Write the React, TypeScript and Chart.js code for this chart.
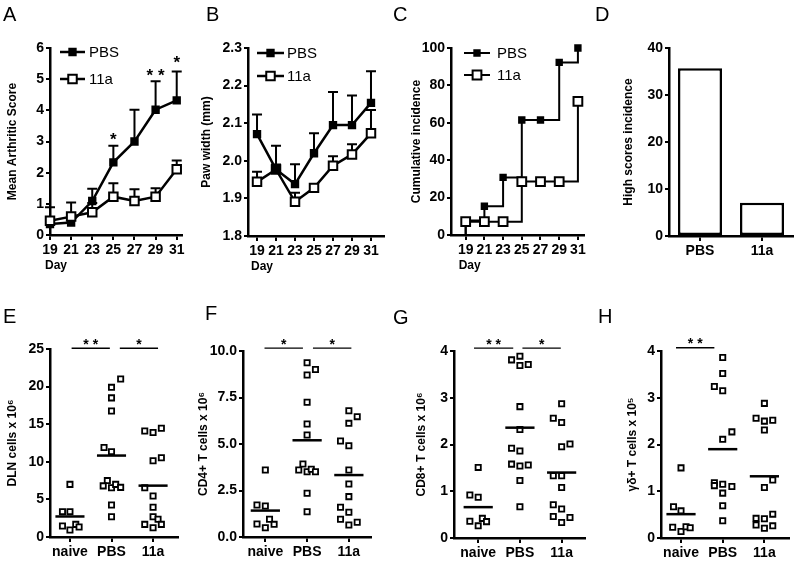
import React, { useEffect, useRef } from 'react';
import { Chart, registerables } from 'chart.js';

Chart.register(...registerables);

const FAMILY = '"Liberation Sans", Arial, Helvetica, sans-serif';
const INK = '#000000';

// ---------------- shared categories / ticks ----------------
const days = [19, 21, 23, 25, 27, 29, 31];
const dayTicks = [19, 21, 23, 25, 27, 29, 31];
const dayTickLabels = ['19', '21', '23', '25', '27', '29', '31'];
const treatmentNames = ['PBS', '11a'];
const cellGroups = ['naive', 'PBS', '11a'];
const cellGroupPos = [1, 2, 3];

// ---------------- A: mean arthritic score ----------------
const scorePBS = [0.35, 0.4, 1.09, 2.33, 3.0, 4.02, 4.32];
const scorePBSsem = [0.54, 0, 0.39, 0.53, 1.02, 0.91, 0.93];
const score11a = [0.46, 0.59, 0.73, 1.23, 1.09, 1.23, 2.11];
const score11aSem = [0, 0.45, 0.3, 0.43, 0.38, 0.27, 0.28];
const scoreStars = [
  { day: 25, y: 3.2, text: '*' },
  { day: 29, y: 5.25, text: '* *' },
  { day: 31, y: 5.67, text: '*' },
];
const scoreYTicks = [0, 1, 2, 3, 4, 5, 6];
const scoreYLabels = ['0', '1', '2', '3', '4', '5', '6'];

// ---------------- B: paw width ----------------
const pawPBS = [2.071, 1.977, 1.938, 2.02, 2.095, 2.095, 2.154];
const pawPBSsem = [0.052, 0.063, 0.053, 0.053, 0.088, 0.079, 0.084];
const paw11a = [1.944, 1.977, 1.891, 1.928, 1.987, 2.017, 2.073];
const paw11aSem = [0.027, 0.013, 0.024, 0, 0.025, 0.027, 0.062];
const pawYTicks = [1.8, 1.9, 2.0, 2.1, 2.2, 2.3];
const pawYLabels = ['1.8', '1.9', '2.0', '2.1', '2.2', '2.3'];

// ---------------- C: cumulative incidence ----------------
const incidenceStart = 0;
const incPBS = [7.7, 15.4, 30.8, 61.5, 61.5, 92.3, 100];
const inc11a = [7.1, 7.1, 7.1, 28.6, 28.6, 28.6, 71.4];
const incYTicks = [0, 20, 40, 60, 80, 100];
const incYLabels = ['0', '20', '40', '60', '80', '100'];

// ---------------- D: high scores incidence ----------------
const highScores = [35.7, 7.1];
const highYTicks = [0, 10, 20, 30, 40];
const highYLabels = ['0', '10', '20', '30', '40'];

// ---------------- E: DLN cells ----------------
const dlnNaive = [7.0, 3.37, 3.37, 1.46, 0.93, 1.68, 1.33];
const dlnNaiveJit = [0, -0.18, 0, -0.18, 0, 0.14, 0.22];
const dlnPBS = [21.0, 19.9, 18.5, 16.75, 11.9, 11.35, 7.5, 6.8, 6.55, 7.0, 6.6, 4.26, 2.7];
const dlnPBSJit = [0.22, 0, 0, 0, -0.18, 0, -0.1, -0.2, 0, 0.1, 0.22, 0, 0];
const dln11a = [14.1, 13.9, 14.45, 10.15, 10.55, 6.55, 5.45, 3.95, 2.7, 2.35, 1.68, 1.24, 1.68];
const dln11aJit = [-0.2, 0, 0.2, 0, 0.2, -0.2, 0, 0, 0, 0.12, -0.2, 0, 0.2];
const dlnMeans = [2.73, 10.83, 6.83];
const dlnSig = [
  { from: 1.04, to: 1.96, y: 25.1, text: '* *' },
  { from: 2.2, to: 3.12, y: 25.1, text: '*' },
];
const dlnYTicks = [0, 5, 10, 15, 20, 25];
const dlnYLabels = ['0', '5', '10', '15', '20', '25'];

// ---------------- F: CD4+ T cells ----------------
const cd4Naive = [3.6, 1.72, 1.67, 0.95, 0.7, 0.5, 0.68];
const cd4NaiveJit = [0, -0.2, 0, 0.1, -0.2, 0, 0.21];
const cd4PBS = [9.37, 9.01, 8.71, 7.24, 6.08, 5.48, 3.92, 3.6, 3.51, 3.64, 3.51, 2.35, 1.36];
const cd4PBSJit = [0, 0.2, 0, 0, 0, 0, -0.1, -0.2, 0, 0.1, 0.2, 0, 0];
const cd411a = [6.79, 6.47, 6.11, 5.16, 4.91, 3.6, 2.85, 2.17, 1.6, 1.33, 0.95, 0.65, 0.79];
const cd411aJit = [0, 0.2, 0, -0.2, 0, 0, 0, 0, -0.2, 0, -0.2, 0, 0.2];
const cd4Means = [1.42, 5.2, 3.33];
const cd4Sig = [
  { from: 0.98, to: 1.9, y: 10.15, text: '*' },
  { from: 2.14, to: 3.06, y: 10.15, text: '*' },
];
const cd4YTicks = [0, 2.5, 5, 7.5, 10];
const cd4YLabels = ['0.0', '2.5', '5.0', '7.5', '10.0'];

// ---------------- G: CD8+ T cells ----------------
const cd8Naive = [1.51, 0.92, 0.87, 0.36, 0.42, 0.26, 0.35];
const cd8NaiveJit = [0, -0.2, 0, -0.2, 0.1, 0, 0.2];
const cd8PBS = [3.89, 3.81, 3.69, 3.71, 2.81, 2.32, 1.92, 1.86, 1.58, 1.54, 1.56, 1.23, 0.67];
const cd8PBSJit = [0, -0.2, 0, 0.2, 0, 0, -0.2, 0, -0.2, 0, 0.2, 0, 0];
const cd811a = [2.87, 2.56, 2.47, 1.95, 2.01, 1.33, 1.33, 1.08, 0.71, 0.62, 0.46, 0.33, 0.44];
const cd811aJit = [0, -0.2, 0, 0, 0.2, -0.2, 0, 0, -0.2, 0, -0.2, 0, 0.2];
const cd8Means = [0.66, 2.36, 1.4];
const cd8Sig = [
  { from: 0.9, to: 1.84, y: 4.06, text: '* *' },
  { from: 2.06, to: 2.98, y: 4.06, text: '*' },
];
const fourTicks = [0, 1, 2, 3, 4];
const fourLabels = ['0', '1', '2', '3', '4'];

// ---------------- H: gamma-delta T cells ----------------
const gdNaive = [1.5, 0.67, 0.58, 0.23, 0.14, 0.24, 0.22];
const gdNaiveJit = [0, -0.18, 0, -0.2, 0, 0.12, 0.22];
const gdPBS = [3.86, 3.52, 3.24, 3.15, 2.27, 2.11, 1.18, 1.12, 1.15, 1.1, 0.96, 0.69, 0.37];
const gdPBSJit = [0, 0, -0.2, 0, 0.22, 0, -0.2, -0.2, 0, 0.22, 0, 0, 0];
const gd11a = [2.88, 2.56, 2.5, 2.52, 2.31, 1.24, 1.08, 0.42, 0.41, 0.51, 0.28, 0.21, 0.26];
const gd11aJit = [0, -0.2, 0, 0.2, 0, 0.2, 0, -0.2, 0, 0.2, -0.2, 0, 0.2];
const gdMeans = [0.51, 1.9, 1.32];
const gdSig = [{ from: 0.88, to: 1.8, y: 4.07, text: '* *' }];

// ---------------- plugins ----------------
const semPlugin = {
  id: 'semBars',
  beforeDatasetsDraw(chart: any, _a: any, opts: any) {
    if (!opts || !opts.sets) return;
    const { ctx } = chart;
    const ys = chart.scales.y;
    ctx.save();
    ctx.strokeStyle = INK;
    ctx.lineWidth = opts.lineWidth;
    opts.sets.forEach((set: any) => {
      const idx = chart.data.datasets.findIndex((d: any) => d.label === set.label);
      if (idx < 0) return;
      const meta = chart.getDatasetMeta(idx);
      const ds = chart.data.datasets[idx];
      set.err.forEach((e: number, i: number) => {
        if (!e) return;
        const el = meta.data[i];
        const top = ys.getPixelForValue(ds.data[i].y + e);
        ctx.beginPath();
        ctx.moveTo(el.x, el.y);
        ctx.lineTo(el.x, top);
        ctx.moveTo(el.x - opts.cap, top);
        ctx.lineTo(el.x + opts.cap, top);
        ctx.stroke();
      });
    });
    ctx.restore();
  },
};

const legendPlugin = {
  id: 'innerLegend',
  afterDatasetsDraw(chart: any, _a: any, opts: any) {
    if (!opts || !opts.items) return;
    const { ctx, chartArea } = chart;
    ctx.save();
    opts.items.forEach((it: any, i: number) => {
      const y = chartArea.top + opts.dy + i * opts.gap;
      const x0 = chartArea.left + opts.dx;
      ctx.strokeStyle = INK;
      ctx.lineWidth = opts.lineWidth;
      ctx.beginPath();
      ctx.moveTo(x0, y);
      ctx.lineTo(x0 + opts.len, y);
      ctx.stroke();
      const s = it.r * Math.SQRT1_2 * 2;
      const xm = x0 + opts.len / 2;
      ctx.fillStyle = it.fill;
      ctx.lineWidth = 2;
      ctx.beginPath();
      ctx.rect(xm - s / 2, y - s / 2, s, s);
      ctx.fill();
      ctx.stroke();
      ctx.fillStyle = INK;
      ctx.font = `${opts.size}px ${FAMILY}`;
      ctx.textAlign = 'left';
      ctx.textBaseline = 'middle';
      ctx.fillText(it.label, x0 + opts.len + opts.textGap, y + 1);
    });
    ctx.restore();
  },
};

const starPlugin = {
  id: 'dataStars',
  afterDatasetsDraw(chart: any, _a: any, opts: any) {
    if (!opts || !opts.items) return;
    const { ctx } = chart;
    ctx.save();
    ctx.fillStyle = INK;
    ctx.font = `bold ${opts.size}px ${FAMILY}`;
    ctx.textAlign = 'center';
    ctx.textBaseline = 'alphabetic';
    opts.items.forEach((it: any) => {
      const x = chart.scales.x.getPixelForValue(it.day);
      const y = chart.scales.y.getPixelForValue(it.y);
      ctx.fillText(it.text, x, y + opts.size * 0.58);
    });
    ctx.restore();
  },
};

const sigPlugin = {
  id: 'sigBrackets',
  afterDraw(chart: any, _a: any, opts: any) {
    if (!opts || !opts.items) return;
    const { ctx } = chart;
    ctx.save();
    ctx.strokeStyle = INK;
    ctx.fillStyle = INK;
    ctx.lineWidth = 1.3;
    ctx.font = `bold ${opts.size}px ${FAMILY}`;
    ctx.textAlign = 'center';
    ctx.textBaseline = 'alphabetic';
    opts.items.forEach((it: any) => {
      const x1 = chart.scales.x.getPixelForValue(it.from);
      const x2 = chart.scales.x.getPixelForValue(it.to);
      const y = chart.scales.y.getPixelForValue(it.y);
      ctx.beginPath();
      ctx.moveTo(x1, y);
      ctx.lineTo(x2, y);
      ctx.stroke();
      ctx.fillText(it.text, (x1 + x2) / 2, y + 0.5);
    });
    ctx.restore();
  },
};

const xTitlePlugin = {
  id: 'xTitle',
  afterDraw(chart: any, _a: any, opts: any) {
    if (!opts || !opts.text) return;
    const { ctx, chartArea } = chart;
    ctx.save();
    ctx.fillStyle = INK;
    ctx.font = `bold 12px ${FAMILY}`;
    ctx.textAlign = 'left';
    ctx.textBaseline = 'middle';
    const x = chart.scales.x.getPixelForValue(opts.first) + opts.dx;
    ctx.fillText(opts.text, x, chartArea.bottom + opts.dy);
    ctx.restore();
  },
};

const allPlugins = [semPlugin, legendPlugin, starPlugin, sigPlugin, xTitlePlugin];

// ---------------- helpers ----------------
type Box = { left: number; top: number; width: number; height: number };
type Area = { left: number; right: number; top: number; bottom: number };

const tickFont = { family: FAMILY, size: 14, weight: 'bold' as const };
const titleFont = { family: FAMILY, size: 12, weight: 'bold' as const };

function yAxis(min: number, max: number, ticks: number[], labels: string[], title: string, width: number) {
  return {
    type: 'linear',
    position: 'left',
    min,
    max,
    afterBuildTicks: (s: any) => {
      s.ticks = ticks.map((v) => ({ value: v }));
    },
    afterFit: (s: any) => {
      s.width = width;
      s.paddingTop = 0;
      s.paddingBottom = 0;
    },
    ticks: { autoSkip: false, color: INK, font: tickFont, padding: 2, callback: (_v: any, i: number) => labels[i] },
    grid: { drawOnChartArea: false, drawTicks: true, tickLength: 4, color: INK, lineWidth: 2 },
    border: { display: true, color: INK, width: 2.5 },
    title: { display: true, text: title, color: INK, font: titleFont, padding: 0 },
  };
}

function xLinear(min: number, max: number, ticks: number[], labels: string[], height: number) {
  return {
    type: 'linear',
    position: 'bottom',
    min,
    max,
    afterBuildTicks: (s: any) => {
      s.ticks = ticks.map((v) => ({ value: v }));
    },
    afterFit: (s: any) => {
      s.height = height;
      s.paddingLeft = 0;
      s.paddingRight = 0;
    },
    ticks: {
      autoSkip: false,
      maxRotation: 0,
      minRotation: 0,
      color: INK,
      font: tickFont,
      padding: 2,
      callback: (_v: any, i: number) => labels[i],
    },
    grid: { drawOnChartArea: false, drawTicks: true, tickLength: 5, color: INK, lineWidth: 2 },
    border: { display: true, color: INK, width: 2.5 },
  };
}

function layoutPad(box: Box, area: Area, yW: number, xH: number) {
  return {
    padding: {
      left: area.left - box.left - yW,
      top: area.top - box.top,
      right: box.left + box.width - area.right,
      bottom: box.top + box.height - area.bottom - xH,
    },
  };
}

function baseOptions(box: Box, area: Area, yW: number, xH: number, scales: any, plugins: any) {
  return {
    responsive: false,
    maintainAspectRatio: false,
    animation: false,
    devicePixelRatio: 1,
    events: [],
    layout: layoutPad(box, area, yW, xH),
    scales,
    plugins: { legend: { display: false }, tooltip: { enabled: false }, ...plugins },
  };
}

const pts = (values: number[]) => days.map((d, i) => ({ x: d, y: values[i] }));

function seriesDs(label: string, values: number[], filled: boolean, r: number, lw: number) {
  return {
    label,
    data: pts(values),
    borderColor: INK,
    backgroundColor: filled ? INK : '#ffffff',
    borderWidth: lw,
    pointStyle: 'rect',
    pointRadius: r,
    pointBorderWidth: 2,
    pointBorderColor: INK,
    pointBackgroundColor: filled ? INK : '#ffffff',
    tension: 0,
    clip: false,
  };
}

const TITLE_HALF = 7.2;

// ---------------- panel configs ----------------
function configA() {
  const box = { left: 0, top: 0, width: 195, height: 280 };
  const area = { left: 50, right: 182, top: 48, bottom: 235 };
  const yW = 37 + TITLE_HALF;
  return {
    box,
    cfg: {
      type: 'line',
      data: { datasets: [seriesDs('11a', score11a, false, 6, 2.5), seriesDs('PBS', scorePBS, true, 4.5, 2.5)] },
      options: baseOptions(
        box,
        area,
        yW,
        40,
        {
          x: xLinear(19, 31.5, dayTicks, dayTickLabels, 40),
          y: yAxis(0, 6, scoreYTicks, scoreYLabels, 'Mean Arthritic Score', yW),
        },
        {
          semBars: { lineWidth: 2, cap: 5, sets: [{ label: 'PBS', err: scorePBSsem }, { label: '11a', err: score11aSem }] },
          innerLegend: {
            dx: 10, dy: 4, gap: 27, len: 25, textGap: 4, size: 15, lineWidth: 2.5,
            items: [{ label: 'PBS', r: 4.5, fill: INK }, { label: '11a', r: 6, fill: '#ffffff' }],
          },
          dataStars: { size: 17, items: scoreStars },
          xTitle: { text: 'Day', first: dayTicks[0], dx: -5, dy: 31 },
        }
      ),
      plugins: allPlugins,
    },
  };
}

function configB() {
  const box = { left: 195, top: 0, width: 198, height: 280 };
  const area = { left: 248, right: 384, top: 48, bottom: 236 };
  const yW = 41 + TITLE_HALF;
  return {
    box,
    cfg: {
      type: 'line',
      data: { datasets: [seriesDs('PBS', pawPBS, true, 4.5, 2.5), seriesDs('11a', paw11a, false, 6, 2.5)] },
      options: baseOptions(
        box,
        area,
        yW,
        40,
        {
          x: xLinear(18.05, 32.37, dayTicks, dayTickLabels, 40),
          y: yAxis(1.8, 2.3, pawYTicks, pawYLabels, 'Paw width (mm)', yW),
        },
        {
          semBars: { lineWidth: 2, cap: 5, sets: [{ label: 'PBS', err: pawPBSsem }, { label: '11a', err: paw11aSem }] },
          innerLegend: {
            dx: 9, dy: 5, gap: 23, len: 27, textGap: 3, size: 15, lineWidth: 2.5,
            items: [{ label: 'PBS', r: 4.5, fill: INK }, { label: '11a', r: 6, fill: '#ffffff' }],
          },
          xTitle: { text: 'Day', first: dayTicks[0], dx: -6, dy: 31 },
        }
      ),
      plugins: allPlugins,
    },
  };
}

function stepDs(label: string, values: number[], filled: boolean, r: number) {
  const data = [{ x: days[0], y: incidenceStart }, ...pts(values)];
  return {
    label,
    data,
    stepped: 'before',
    borderColor: INK,
    backgroundColor: filled ? INK : '#ffffff',
    borderWidth: 2,
    pointStyle: 'rect',
    pointRadius: (c: any) => (c.dataIndex === 0 ? 0 : r),
    pointBorderWidth: 2,
    pointBorderColor: INK,
    pointBackgroundColor: filled ? INK : '#ffffff',
    clip: false,
  };
}

function configC() {
  const box = { left: 393, top: 0, width: 199, height: 280 };
  const area = { left: 451, right: 587, top: 48, bottom: 235 };
  const yW = 34 + TITLE_HALF;
  return {
    box,
    cfg: {
      type: 'line',
      data: { datasets: [stepDs('11a', inc11a, false, 6.2), stepDs('PBS', incPBS, true, 3.8)] },
      options: baseOptions(
        box,
        area,
        yW,
        40,
        {
          x: xLinear(17.43, 31.63, dayTicks, dayTickLabels, 40),
          y: yAxis(0, 100, incYTicks, incYLabels, 'Cumulative incidence', yW),
        },
        {
          innerLegend: {
            dx: 13, dy: 5, gap: 22, len: 26, textGap: 7, size: 15, lineWidth: 2,
            items: [{ label: 'PBS', r: 3.8, fill: INK }, { label: '11a', r: 6.2, fill: '#ffffff' }],
          },
          xTitle: { text: 'Day', first: dayTicks[0], dx: -7, dy: 31 },
        }
      ),
      plugins: allPlugins,
    },
  };
}

function configD() {
  const box = { left: 592, top: 0, width: 207, height: 280 };
  const area = { left: 669, right: 793, top: 48, bottom: 236 };
  const yW = 40 + TITLE_HALF;
  return {
    box,
    cfg: {
      type: 'bar',
      data: {
        labels: treatmentNames,
        datasets: [
          {
            data: highScores,
            backgroundColor: '#ffffff',
            borderColor: INK,
            borderWidth: 2.5,
            borderSkipped: false,
            barPercentage: 0.71,
            categoryPercentage: 1,
          },
        ],
      },
      options: baseOptions(
        box,
        area,
        yW,
        40,
        {
          x: {
            type: 'category',
            offset: true,
            afterFit: (s: any) => {
              s.height = 40;
              s.paddingLeft = 0;
              s.paddingRight = 0;
            },
            ticks: { autoSkip: false, maxRotation: 0, color: INK, font: tickFont, padding: 2 },
            grid: { offset: false, drawOnChartArea: false, drawTicks: true, tickLength: 5, color: INK, lineWidth: 2 },
            border: { display: true, color: INK, width: 2.5 },
          },
          y: yAxis(0, 40, highYTicks, highYLabels, 'High scores incidence', yW),
        },
        {}
      ),
      plugins: allPlugins,
    },
  };
}

function dotConfig(
  box: Box,
  area: Area,
  titleOffset: number,
  xMin: number,
  xMax: number,
  groups: { values: number[]; jit: number[] }[],
  means: number[],
  sig: any[],
  yMax: number,
  yTicks: number[],
  yLabels: string[],
  title: string
) {
  const yW = titleOffset + TITLE_HALF;
  const meanSets = means.map((m, g) => ({
    type: 'line',
    data: [
      { x: cellGroupPos[g] - 0.35, y: m },
      { x: cellGroupPos[g] + 0.35, y: m },
    ],
    borderColor: INK,
    borderWidth: 2.5,
    pointRadius: 0,
    showLine: true,
    clip: false,
  }));
  const pointSets = groups.map((gr, g) => ({
    type: 'scatter',
    data: gr.values.map((v, i) => ({ x: cellGroupPos[g] + gr.jit[i], y: v })),
    pointStyle: 'rect',
    pointRadius: 3.7,
    pointBorderWidth: 1.8,
    pointBorderColor: INK,
    pointBackgroundColor: '#ffffff',
    showLine: false,
    clip: false,
  }));
  return {
    box,
    cfg: {
      type: 'scatter',
      data: { datasets: [...meanSets, ...pointSets] },
      options: baseOptions(
        box,
        area,
        yW,
        22,
        {
          x: xLinear(xMin, xMax, cellGroupPos, cellGroups, 22),
          y: yAxis(0, yMax, yTicks, yLabels, title, yW),
        },
        { sigBrackets: { size: 14, items: sig } }
      ),
      plugins: allPlugins,
    },
  };
}

function configE() {
  return dotConfig(
    { left: 0, top: 280, width: 195, height: 281 },
    { left: 50, right: 178, top: 349, bottom: 537 },
    37, 0.52, 3.6,
    [
      { values: dlnNaive, jit: dlnNaiveJit },
      { values: dlnPBS, jit: dlnPBSJit },
      { values: dln11a, jit: dln11aJit },
    ],
    dlnMeans, dlnSig, 25, dlnYTicks, dlnYLabels, 'DLN cells x 10\u2076'
  );
}
function configF() {
  return dotConfig(
    { left: 195, top: 280, width: 198, height: 281 },
    { left: 243, right: 371, top: 351, bottom: 537 },
    39, 0.465, 3.53,
    [
      { values: cd4Naive, jit: cd4NaiveJit },
      { values: cd4PBS, jit: cd4PBSJit },
      { values: cd411a, jit: cd411aJit },
    ],
    cd4Means, cd4Sig, 10, cd4YTicks, cd4YLabels, 'CD4+ T cells x 10\u2076'
  );
}
function configG() {
  return dotConfig(
    { left: 393, top: 280, width: 199, height: 281 },
    { left: 454, right: 585, top: 351, bottom: 538 },
    32, 0.42, 3.56,
    [
      { values: cd8Naive, jit: cd8NaiveJit },
      { values: cd8PBS, jit: cd8PBSJit },
      { values: cd811a, jit: cd811aJit },
    ],
    cd8Means, cd8Sig, 4, fourTicks, fourLabels, 'CD8+ T cells x 10\u2076'
  );
}
function configH() {
  return dotConfig(
    { left: 592, top: 280, width: 207, height: 281 },
    { left: 661, right: 789, top: 351, bottom: 538 },
    28, 0.52, 3.59,
    [
      { values: gdNaive, jit: gdNaiveJit },
      { values: gdPBS, jit: gdPBSJit },
      { values: gd11a, jit: gd11aJit },
    ],
    gdMeans, gdSig, 4, fourTicks, fourLabels, '\u03b3\u03b4+ T cells x 10\u2075'
  );
}

const panels = [configA, configB, configC, configD, configE, configF, configG, configH];

const panelLetters = [
  { text: 'A', left: 3, top: 4 },
  { text: 'B', left: 206, top: 4 },
  { text: 'C', left: 393, top: 4 },
  { text: 'D', left: 595, top: 4 },
  { text: 'E', left: 3, top: 306 },
  { text: 'F', left: 205, top: 303 },
  { text: 'G', left: 393, top: 307 },
  { text: 'H', left: 598, top: 306 },
];

function ChartPanel({ make }: { make: () => { box: Box; cfg: any } }) {
  const ref = useRef<HTMLCanvasElement>(null);
  const { box } = make();
  useEffect(() => {
    const { cfg } = make();
    const chart = new Chart(ref.current as HTMLCanvasElement, cfg);
    return () => chart.destroy();
  }, []);
  return (
    <canvas
      ref={ref}
      width={box.width}
      height={box.height}
      style={{ position: 'absolute', left: box.left, top: box.top, width: box.width, height: box.height }}
    />
  );
}

export default function App() {
  return (
    <div
      style={{
        position: 'absolute',
        left: 0,
        top: 0,
        width: 799,
        height: 561,
        background: '#ffffff',
        overflow: 'hidden',
      }}
    >
      {panels.map((p, i) => (
        <ChartPanel key={i} make={p} />
      ))}
      {panelLetters.map((l) => (
        <div
          key={l.text}
          style={{
            position: 'absolute',
            left: l.left,
            top: l.top,
            fontFamily: FAMILY,
            fontSize: 20,
            lineHeight: '20px',
            color: INK,
          }}
        >
          {l.text}
        </div>
      ))}
    </div>
  );
}
